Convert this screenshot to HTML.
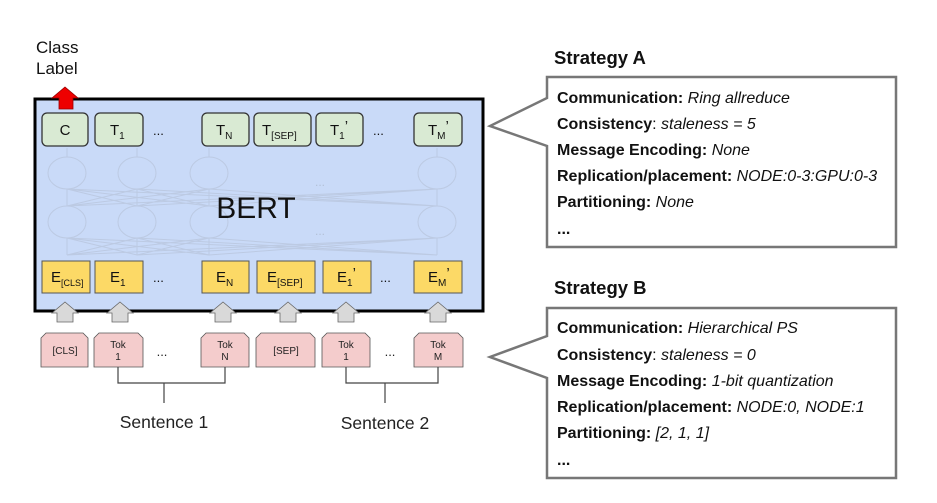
<!DOCTYPE html>
<html><head><meta charset="utf-8"><style>
html,body{margin:0;padding:0;background:#fff;}
svg{display:block;font-family:"Liberation Sans",Arial,sans-serif;}
</style></head><body>
<svg width="937" height="503" viewBox="0 0 937 503" xmlns="http://www.w3.org/2000/svg">
<text x="36" y="53" font-size="17" fill="#111">Class</text>
<text x="36" y="74" font-size="17" fill="#111">Label</text>
<rect x="35" y="99" width="448" height="212" fill="#c9daf8" stroke="#000" stroke-width="3"/>
<polygon points="65,87 78,98 73,98 73,109 59,109 59,98 52,98" fill="#e00" stroke="#900" stroke-width="0.8"/>
<g stroke="#b8c5dc" stroke-width="1" fill="none" opacity="0.75">
<ellipse cx="67" cy="173" rx="19" ry="16"/><ellipse cx="137" cy="173" rx="19" ry="16"/><ellipse cx="209" cy="173" rx="19" ry="16"/><ellipse cx="437" cy="173" rx="19" ry="16"/>
<ellipse cx="67" cy="222" rx="19" ry="16"/><ellipse cx="137" cy="222" rx="19" ry="16"/><ellipse cx="209" cy="222" rx="19" ry="16"/><ellipse cx="437" cy="222" rx="19" ry="16"/>
<path d="M67 157V148M137 157V148M209 157V148M437 157V148"/>
<path d="M67 206V189M137 206V189M209 206V189M437 206V189"/>
<path d="M67 255V238M137 255V238M209 255V238M437 255V238"/>
<path d="M67 206L137 189M67 206L209 189M67 206L437 189M137 206L67 189M137 206L209 189M137 206L437 189M209 206L67 189M209 206L137 189M209 206L437 189M437 206L67 189M437 206L137 189M437 206L209 189"/>
<path d="M67 255L137 238M67 255L209 238M67 255L437 238M137 255L67 238M137 255L209 238M137 255L437 238M209 255L67 238M209 255L137 238M209 255L437 238M437 255L67 238M437 255L137 238M437 255L209 238"/>
</g>
<text x="320" y="186" font-size="12" fill="#b3c0d6" text-anchor="middle">...</text>
<text x="320" y="235" font-size="12" fill="#b3c0d6" text-anchor="middle">...</text>
<text x="256" y="218" font-size="30" fill="#111" text-anchor="middle">BERT</text>
<g fill="#d9ead3" stroke="#333" stroke-width="1.3">
<rect x="42" y="113" width="46" height="33" rx="5"/>
<rect x="95" y="113" width="48" height="33" rx="5"/>
<rect x="202" y="113" width="47" height="33" rx="5"/>
<rect x="254" y="113" width="57" height="33" rx="5"/>
<rect x="316" y="113" width="47" height="33" rx="5"/>
<rect x="414" y="113" width="48" height="33" rx="5"/>
</g>
<g font-size="15" fill="#111">
<text x="65" y="135" text-anchor="middle">C</text>
<text x="110" y="135">T<tspan font-size="10" dy="4">1</tspan></text>
<text x="153" y="135" font-size="13">...</text>
<text x="216" y="135">T<tspan font-size="10" dy="4">N</tspan></text>
<text x="262" y="135">T<tspan font-size="10" dy="4">[SEP]</tspan></text>
<text x="330" y="135">T<tspan font-size="10" dy="4">1</tspan><tspan dy="-8">’</tspan></text>
<text x="373" y="135" font-size="13">...</text>
<text x="428" y="135">T<tspan font-size="10" dy="4">M</tspan><tspan dy="-8">’</tspan></text>
</g>
<g fill="#fcd966" stroke="#555" stroke-width="1">
<rect x="42" y="261" width="48" height="32"/>
<rect x="95" y="261" width="48" height="32"/>
<rect x="202" y="261" width="47" height="32"/>
<rect x="257" y="261" width="58" height="32"/>
<rect x="323" y="261" width="48" height="32"/>
<rect x="414" y="261" width="48" height="32"/>
</g>
<g font-size="15" fill="#111">
<text x="51" y="282">E<tspan font-size="9" dy="4">[CLS]</tspan></text>
<text x="110" y="282">E<tspan font-size="10" dy="4">1</tspan></text>
<text x="153" y="282" font-size="13">...</text>
<text x="216" y="282">E<tspan font-size="10" dy="4">N</tspan></text>
<text x="267" y="282">E<tspan font-size="10" dy="4">[SEP]</tspan></text>
<text x="337" y="282">E<tspan font-size="10" dy="4">1</tspan><tspan dy="-8">’</tspan></text>
<text x="380" y="282" font-size="13">...</text>
<text x="428" y="282">E<tspan font-size="10" dy="4">M</tspan><tspan dy="-8">’</tspan></text>
</g>
<g fill="#d9d9d9" stroke="#666" stroke-width="0.8">
<polygon points="65,302 78,313 73,313 73,322 57,322 57,313 52,313"/>
<polygon points="120,302 133,313 128,313 128,322 112,322 112,313 107,313"/>
<polygon points="223,302 236,313 231,313 231,322 215,322 215,313 210,313"/>
<polygon points="288,302 301,313 296,313 296,322 280,322 280,313 275,313"/>
<polygon points="346,302 359,313 354,313 354,322 338,322 338,313 333,313"/>
<polygon points="438,302 451,313 446,313 446,322 430,322 430,313 425,313"/>
</g>
<g fill="#f4cccc" stroke="#555" stroke-width="0.8">
<path d="M46 333H83L88 338V367H41V338Z"/>
<path d="M99 333H138L143 338V367H94V338Z"/>
<path d="M206 333H244L249 338V367H201V338Z"/>
<path d="M261 333H310L315 338V367H256V338Z"/>
<path d="M327 333H365L370 338V367H322V338Z"/>
<path d="M419 333H458L463 338V367H414V338Z"/>
</g>
<g font-size="10" fill="#222" text-anchor="middle">
<text x="65" y="354">[CLS]</text>
<text x="118" y="348">Tok</text><text x="118" y="360">1</text>
<text x="225" y="348">Tok</text><text x="225" y="360">N</text>
<text x="286" y="354">[SEP]</text>
<text x="346" y="348">Tok</text><text x="346" y="360">1</text>
<text x="438" y="348">Tok</text><text x="438" y="360">M</text>
<text x="162" y="356" font-size="13">...</text>
<text x="390" y="356" font-size="13">...</text>
</g>
<g stroke="#444" stroke-width="1.2" fill="none">
<path d="M118 367V383H225V367M164 383V403"/>
<path d="M346 367V383H438V367M385 383V403"/>
</g>
<text x="164" y="428" font-size="17.5" fill="#222" text-anchor="middle">Sentence 1</text>
<text x="385" y="429" font-size="17.5" fill="#222" text-anchor="middle">Sentence 2</text>
<text x="554" y="64" font-size="18.5" font-weight="bold" fill="#111">Strategy A</text>
<path d="M547 77H896V247H547V146L490 126L547 98Z" fill="#fff" stroke="#777" stroke-width="2.5"/>
<g font-size="16" fill="#111">
<text x="557" y="103"><tspan font-weight="bold">Communication:</tspan> <tspan font-style="italic">Ring allreduce</tspan></text>
<text x="557" y="129"><tspan font-weight="bold">Consistency</tspan>: <tspan font-style="italic">staleness = 5</tspan></text>
<text x="557" y="155"><tspan font-weight="bold">Message Encoding:</tspan> <tspan font-style="italic">None</tspan></text>
<text x="557" y="181"><tspan font-weight="bold">Replication/placement:</tspan> <tspan font-style="italic">NODE:0-3:GPU:0-3</tspan></text>
<text x="557" y="207"><tspan font-weight="bold">Partitioning:</tspan> <tspan font-style="italic">None</tspan></text>
<text x="557" y="234" font-weight="bold">...</text>
</g>
<text x="554" y="294" font-size="18.5" font-weight="bold" fill="#111">Strategy B</text>
<path d="M547 308H896V478H547V378L490 357L547 336Z" fill="#fff" stroke="#777" stroke-width="2.5"/>
<g font-size="16" fill="#111">
<text x="557" y="333"><tspan font-weight="bold">Communication:</tspan> <tspan font-style="italic">Hierarchical PS</tspan></text>
<text x="557" y="360"><tspan font-weight="bold">Consistency</tspan>: <tspan font-style="italic">staleness = 0</tspan></text>
<text x="557" y="386"><tspan font-weight="bold">Message Encoding:</tspan> <tspan font-style="italic">1-bit quantization</tspan></text>
<text x="557" y="412"><tspan font-weight="bold">Replication/placement:</tspan> <tspan font-style="italic">NODE:0, NODE:1</tspan></text>
<text x="557" y="438"><tspan font-weight="bold">Partitioning:</tspan> <tspan font-style="italic">[2, 1, 1]</tspan></text>
<text x="557" y="465" font-weight="bold">...</text>
</g>
</svg>
</body></html>
